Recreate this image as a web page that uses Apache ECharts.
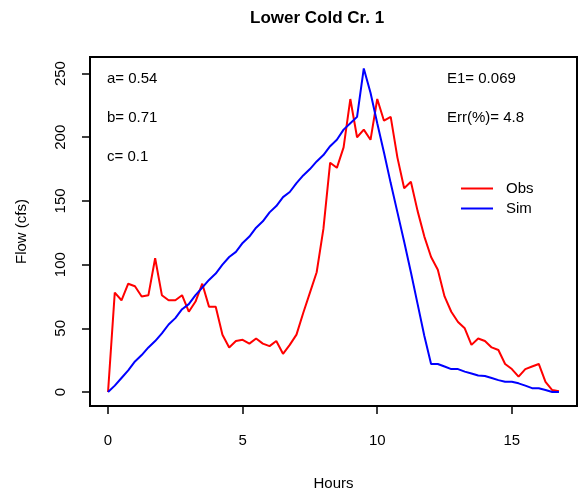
<!DOCTYPE html>
<html>
<head>
<meta charset="utf-8">
<script src="https://cdn.jsdelivr.net/npm/echarts@6/dist/echarts.min.js"></script>
<style>
  html, body { margin: 0; padding: 0; background: #fff; }
  #chart { width: 583px; height: 496px; }
</style>
</head>
<body>
<div id="chart"></div>
<script>
// 时间（小时）
const hours = [
  0, 0.25, 0.5, 0.75, 1, 1.25, 1.5, 1.75, 2, 2.25, 2.5, 2.75,
  3, 3.25, 3.5, 3.75, 4, 4.25, 4.5, 4.75, 5, 5.25, 5.5, 5.75,
  6, 6.25, 6.5, 6.75, 7, 7.25, 7.5, 7.75, 8, 8.25, 8.5, 8.75,
  9, 9.25, 9.5, 9.75, 10, 10.25, 10.5, 10.75, 11, 11.25, 11.5, 11.75,
  12, 12.25, 12.5, 12.75, 13, 13.25, 13.5, 13.75, 14, 14.25, 14.5, 14.75,
  15, 15.25, 15.5, 15.75, 16, 16.25, 16.5, 16.75
];
// 实测流量
const obs = [
  0, 78, 72, 85, 83, 75, 76, 105, 76, 72, 72, 76,
  63, 71, 85, 67, 67, 45, 35, 40, 41, 38, 42, 38,
  36, 40, 30, 37, 45, 62, 78, 94, 128, 180, 176, 192,
  230, 200, 206, 198, 230, 213, 216, 184, 160, 165, 142, 122,
  106, 96, 75, 63, 55, 50, 37, 42, 40, 35, 33, 22,
  18, 12, 18, 20, 22, 8, 1.5, 0.5
];
// 模拟流量
const sim = [
  0, 5, 11, 17, 24, 29, 35, 40, 46, 53, 58, 65,
  69, 76, 82, 88, 93, 100, 106, 110, 117, 122, 129, 134,
  141, 146, 153, 157, 164, 170, 175, 181, 186, 193, 198, 206,
  211, 216, 254, 235, 211, 188, 164, 141, 118, 94, 69, 44,
  22, 22, 20, 18, 18, 16, 14.5, 13, 12.5, 11, 9.3, 8,
  8, 6.8, 5, 3, 3, 1.6, 0, 0
];
const xTicks = [0, 5, 10, 15];
const yTicks = [0, 50, 100, 150, 200, 250];

const font = "'Liberation Sans', Arial, sans-serif";

let chart = echarts.init(document.getElementById("chart"));

const option = {
  animation: false,
  backgroundColor: "#fff",
  textStyle: { fontFamily: font },
  grid: {
    left: 90,
    top: 57,
    width: 487,
    height: 352,
    show: true,
    borderColor: "#000",
    borderWidth: 2,
    containLabel: false,
  },
  legend: {
    orient: "vertical",
    left: 456,
    top: 176,
    icon: "rect",
    itemWidth: 32,
    itemHeight: 2,
    itemGap: 5,
    textStyle: { fontSize: 15, color: "#000", fontFamily: font, padding: [0, 0, 0, 8] },
    data: ["Obs", "Sim"],
  },
  xAxis: {
    type: "value",
    min: -0.67,
    max: 17.42,
    name: "Hours",
    nameLocation: "middle",
    nameGap: 70,
    nameTextStyle: { fontSize: 15, color: "#000", fontFamily: font },
    axisLine: { show: false, onZero: false },
    splitLine: { show: false },
    axisTick: {
      show: true,
      length: 8,
      customValues: xTicks,
      lineStyle: { color: "#000", width: 1.5 },
    },
    axisLabel: {
      customValues: xTicks,
      margin: 27,
      fontSize: 15,
      color: "#000",
      fontFamily: font,
    },
  },
  yAxis: {
    type: "value",
    min: -11,
    max: 263,
    name: "Flow (cfs)",
    nameLocation: "middle",
    nameGap: 61,
    nameTextStyle: { fontSize: 15, color: "#000", fontFamily: font },
    axisLine: { show: false, onZero: false },
    splitLine: { show: false },
    axisTick: {
      show: true,
      length: 8,
      customValues: yTicks,
      lineStyle: { color: "#000", width: 1.5 },
    },
    axisLabel: {
      customValues: yTicks,
      rotate: 90,
      margin: 22,
      fontSize: 15,
      color: "#000",
      fontFamily: font,
    },
  },
  series: [
    {
      name: "Obs",
      type: "line",
      symbol: "none",
      data: hours.map((h, i) => [h, obs[i]]),
      lineStyle: { color: "#ff0000", width: 2 },
      itemStyle: { color: "#ff0000" },
    },
    {
      name: "Sim",
      type: "line",
      symbol: "none",
      data: hours.map((h, i) => [h, sim[i]]),
      lineStyle: { color: "#0000ff", width: 2 },
      itemStyle: { color: "#0000ff" },
    },
  ],
  graphic: [
    // 标题
    {
      type: "text", left: 250, top: 10,
      style: { text: "Lower Cold Cr. 1", font: "bold 17px " + font, fill: "#000" },
    },
    // 参数
    { type: "text", left: 107, top: 71, style: { text: "a= 0.54", font: "15px " + font, fill: "#000" } },
    { type: "text", left: 107, top: 110, style: { text: "b= 0.71", font: "15px " + font, fill: "#000" } },
    { type: "text", left: 107, top: 149, style: { text: "c= 0.1", font: "15px " + font, fill: "#000" } },
    { type: "text", left: 447, top: 71, style: { text: "E1= 0.069", font: "15px " + font, fill: "#000" } },
    { type: "text", left: 447, top: 110, style: { text: "Err(%)= 4.8", font: "15px " + font, fill: "#000" } },
  ],
};

chart.setOption(option);
</script>
</body>
</html>
